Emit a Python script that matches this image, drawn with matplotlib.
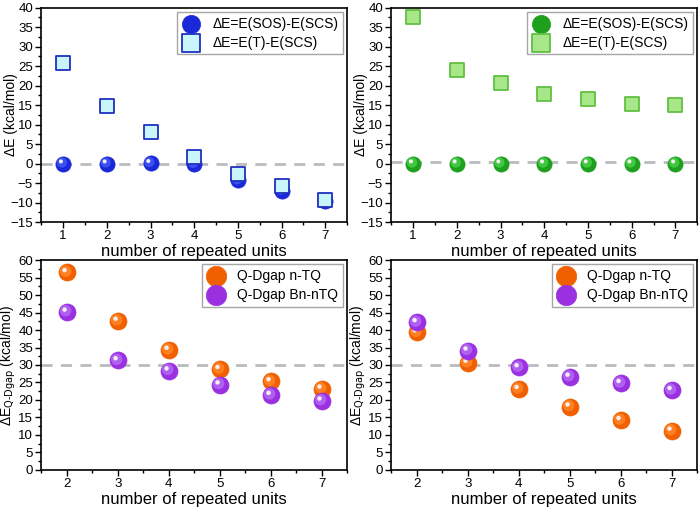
import matplotlib.pyplot as plt
import matplotlib.transforms as mtransforms
import numpy as np

plt.rcParams['font.family'] = ['Liberation Sans', 'DejaVu Sans']
plt.rcParams['mathtext.default'] = 'regular'

# top panels: n = 1..7
n_top = [1, 2, 3, 4, 5, 6, 7]
sos_a = [0.0, 0.0, 0.1, -0.1, -4.3, -7.0, -9.5]
trip_a = [25.8, 14.8, 8.0, 1.7, -2.6, -5.8, -9.2]
sos_b = [0.0, 0.0, 0.0, 0.0, 0.0, 0.0, 0.0]
trip_b = [37.6, 24.0, 20.8, 17.9, 16.6, 15.4, 15.1]

# bottom panels: n = 2..7
n_bot = [2, 3, 4, 5, 6, 7]
ntq_a = [56.5, 42.6, 34.3, 28.8, 25.3, 23.2]
bn_a = [45.2, 31.3, 28.4, 24.4, 21.4, 19.8]
ntq_b = [39.3, 30.6, 23.1, 18.1, 14.2, 11.2]
bn_b = [42.2, 34.1, 29.3, 26.6, 24.8, 22.8]

lbl_sos = 'ΔE=E(SOS)-E(SCS)'
lbl_t = 'ΔE=E(T)-E(SCS)'
lbl_ntq = 'Q-Dgap n-TQ'
lbl_bn = 'Q-Dgap Bn-nTQ'

fig = plt.figure(figsize=(7, 5.13), dpi=100)


def sphere(ax, x, y, dark, mid, size, label, z=3):
    # fake 3D ball: body, lighter core and small highlight up-left
    ax.scatter(x, y, s=size, color=dark, edgecolors=dark, linewidths=0.5,
               zorder=z, label=label)
    off = mtransforms.ScaledTranslation(-0.8/72, 0.8/72, fig.dpi_scale_trans)
    ax.scatter(x, y, s=size*0.45, color=mid, edgecolors='none', zorder=z,
               transform=ax.transData + off)
    off2 = mtransforms.ScaledTranslation(-1.6/72, 1.6/72, fig.dpi_scale_trans)
    ax.scatter(x, y, s=size*0.07, color='#f4eeee', edgecolors='none',
               zorder=z, transform=ax.transData + off2)


def style(ax, xlim, ylim, ystep, ylabel):
    ax.set_xlim(*xlim)
    ax.set_ylim(*ylim)
    ax.set_yticks(np.arange(ylim[0], ylim[1] + 0.1, ystep))
    ax.set_yticks(np.arange(ylim[0], ylim[1] + 0.1, ystep/2), minor=True)
    ax.set_xticks(np.arange(np.ceil(xlim[0]), xlim[1], 1))
    ax.set_xticks(np.arange(xlim[0], xlim[1] + 0.01, 0.5), minor=True)
    ax.tick_params(which='major', direction='out', length=4, width=1,
                   labelsize=9.5, pad=2)
    ax.tick_params(which='minor', direction='out', length=2.5, width=1)
    for s in ax.spines.values():
        s.set_linewidth(1.2)
    ax.set_xlabel('number of repeated units', fontsize=12, labelpad=1)
    ax.set_ylabel(ylabel, fontsize=10)
    ax.yaxis.set_label_coords(-0.075, 0.5)


boxes = [(0.059, 0.567, 0.437, 0.418), (0.559, 0.567, 0.437, 0.418),
         (0.059, 0.084, 0.437, 0.409), (0.559, 0.084, 0.437, 0.409)]
axs = [fig.add_axes(b) for b in boxes]

# top-left
ax = axs[0]
ax.axhline(0, color='#b8bcc0', ls=(0, (4, 3)), lw=2, zorder=1)
sphere(ax, n_top, sos_a, '#1a28d8', '#3a50f0', 120, lbl_sos)
ax.scatter(n_top, trip_a, s=110, marker='s', color='#c8f6fa',
           edgecolors='#2030c0', linewidths=1.3, zorder=4, label=lbl_t)
style(ax, (0.5, 7.5), (-15, 40), 5, 'ΔE (kcal/mol)')

# top-right
ax = axs[1]
ax.axhline(0.3, color='#b8bcc0', ls=(0, (4, 3)), lw=2, zorder=1)
sphere(ax, n_top, sos_b, '#1ea01e', '#40c840', 120, lbl_sos)
ax.scatter(n_top, trip_b, s=110, marker='s', color='#a8e68a',
           edgecolors='#60c040', linewidths=1.3, zorder=4, label=lbl_t)
style(ax, (0.5, 7.5), (-15, 40), 5, 'ΔE (kcal/mol)')

qlabel = r'ΔE$_{\text{Q-Dgap}}$ (kcal/mol)'

# bottom-left
ax = axs[2]
ax.axhline(30, color='#b8bcc0', ls=(0, (4, 3)), lw=2, zorder=1)
sphere(ax, n_bot, ntq_a, '#f06000', '#ff8020', 150, lbl_ntq)
sphere(ax, n_bot, bn_a, '#9a30e0', '#b060f0', 150, lbl_bn)
style(ax, (1.5, 7.5), (0, 60), 5, qlabel)

# bottom-right
ax = axs[3]
ax.axhline(30, color='#b8bcc0', ls=(0, (4, 3)), lw=2, zorder=1)
sphere(ax, n_bot, ntq_b, '#f06000', '#ff8020', 150, lbl_ntq)
sphere(ax, n_bot, bn_b, '#9a30e0', '#b060f0', 150, lbl_bn)
style(ax, (1.5, 7.5), (0, 60), 5, qlabel)

for ax in axs:
    leg = ax.legend(loc='upper right', fontsize=10, frameon=True,
                    fancybox=False, edgecolor='#909090', borderaxespad=0.3,
                    handletextpad=0.8, labelspacing=0.35, borderpad=0.35,
                    handlelength=1.4, markerscale=1.2)
    leg.get_frame().set_linewidth(1)

fig.savefig('out.png', dpi=100)
